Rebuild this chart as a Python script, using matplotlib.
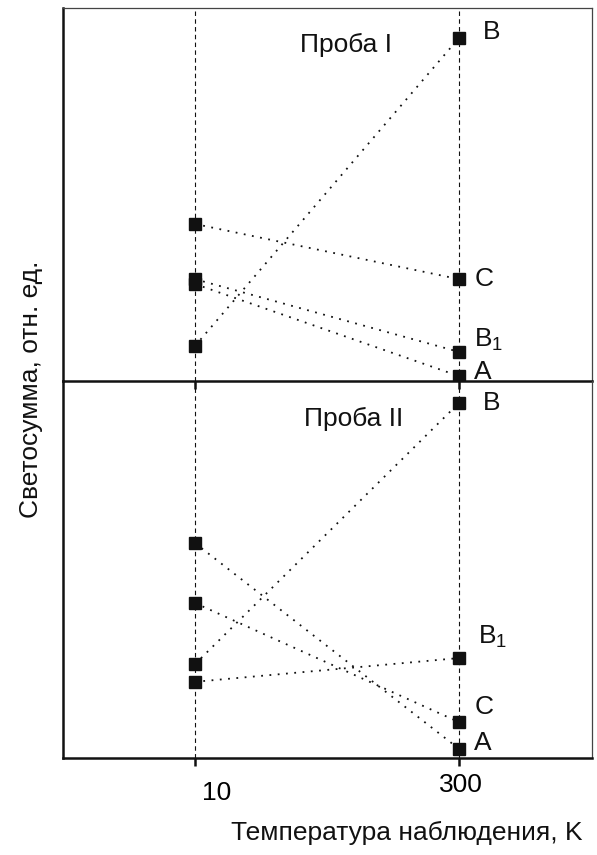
import matplotlib
matplotlib.use("Agg")
import matplotlib.pyplot as plt
from matplotlib.transforms import ScaledTranslation

plt.rcParams['font.family'] = ['Liberation Sans', 'DejaVu Sans']
plt.rcParams['mathtext.fontset'] = 'custom'
plt.rcParams['mathtext.rm'] = 'Liberation Sans'

# temperatures of observation, K
T_LOW, T_HIGH = 10, 300
XTICK_LABELS = ['10', '300']

# light sum, arbitrary units (each panel 0..10)
# sample I : (value at 10 K, value at 300 K, label)
S1_LOW   = [4.21, 2.73, 2.60, 0.94]
S1_HIGH  = [2.73, 0.78, 0.13, 9.20]
S1_NAMES = ['C', r'$\mathrm{B}_\mathrm{1}$', 'A', 'B']

# sample II
S2_LOW   = [5.70, 4.11, 2.49, 2.02]
S2_HIGH  = [0.24, 0.95, 9.42, 2.65]
S2_NAMES = ['A', 'C', 'B', r'$\mathrm{B}_\mathrm{1}$']

INK = '#111111'
FS = 19

fig = plt.figure(figsize=(5.97, 8.55), dpi=100)
ax1 = fig.add_axes([0.1055, 0.5544, 0.8861, 0.4362])
ax2 = fig.add_axes([0.1055, 0.1135, 0.8861, 0.4409])
ax2.patch.set_visible(False)


def draw_panel(ax, low, high, names, label_offsets):
    for t in (T_LOW, T_HIGH):
        ax.axvline(t, color=INK, lw=0.8, ls=(0, (4, 3)), zorder=1)
    for lo, hi, name, (dx, dy) in zip(low, high, names, label_offsets):
        ax.plot([T_LOW, T_HIGH], [lo, hi], color=INK, lw=1.3, ls=(0, (1, 3.6)),
                zorder=2)
        ax.plot([T_LOW, T_HIGH], [lo, hi], ls='none', marker='s', ms=8,
                color=INK, zorder=3)
        ax.annotate(name, (T_HIGH, hi), xytext=(dx, dy), textcoords='offset points',
                    fontsize=FS, color=INK, va='center', ha='left')
    ax.set_xlim(-135, 446)
    ax.set_ylim(0, 10)
    ax.set_yticks([])
    ax.set_xticks([T_LOW, T_HIGH])
    ax.tick_params(axis='x', direction='out', length=6, width=1.8, color=INK)
    for side in ('left', 'bottom'):
        ax.spines[side].set_linewidth(1.8)
        ax.spines[side].set_color(INK)
    for side in ('top', 'right'):
        ax.spines[side].set_linewidth(0.9)
        ax.spines[side].set_color('#444444')


draw_panel(ax1, S1_LOW, S1_HIGH, S1_NAMES,
           [(11, 0), (11, 9), (11, 3), (17, 4)])
draw_panel(ax2, S2_LOW, S2_HIGH, S2_NAMES,
           [(11, 4), (11, 11), (17, 0), (14, 15)])

ax1.set_xticklabels([])
ax2.spines['top'].set_visible(False)
ax2.tick_params(axis='x', top=False)
ax2.set_xticklabels(XTICK_LABELS, fontsize=FS)
labs = ax2.get_xticklabels()
labs[0].set_transform(labs[0].get_transform() + ScaledTranslation(0.22, -0.1, fig.dpi_scale_trans))
labs[1].set_transform(labs[1].get_transform() + ScaledTranslation(0.02, -0.02, fig.dpi_scale_trans))

ax1.text(0.535, 0.9, 'Проба I', transform=ax1.transAxes, fontsize=FS,
         ha='center', va='center', color=INK)
ax2.text(0.55, 0.9, 'Проба II', transform=ax2.transAxes, fontsize=FS,
         ha='center', va='center', color=INK)

fig.text(0.052, 0.545, 'Светосумма, отн. ед.', rotation=90, fontsize=FS,
         ha='center', va='center', color=INK)
fig.text(0.682, 0.026, 'Температура наблюдения, K', fontsize=FS,
         ha='center', va='center', color=INK)

fig.savefig('out.png', dpi=100)
